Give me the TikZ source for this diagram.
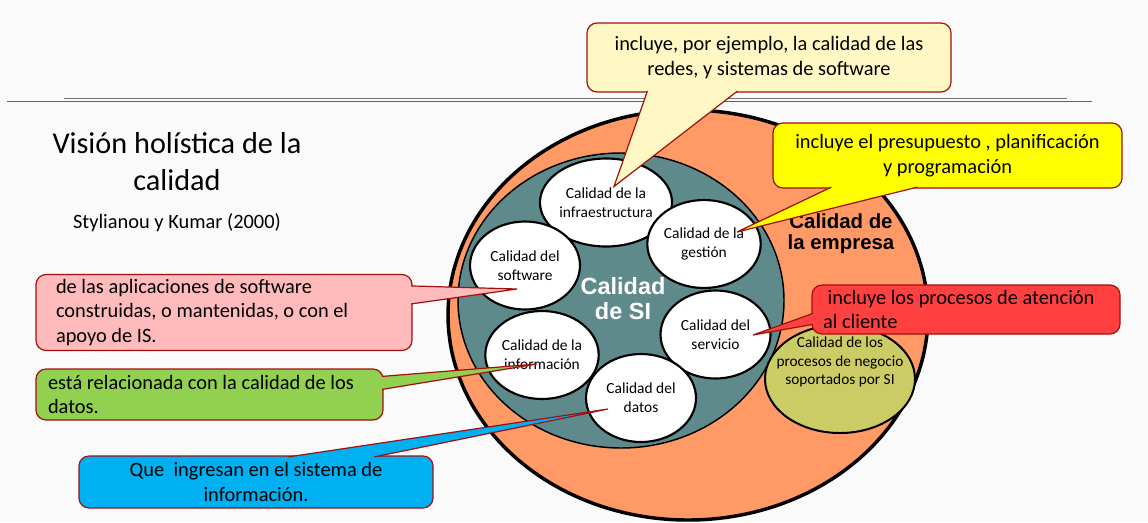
\documentclass[tikz,border=0pt]{standalone}
\usepackage{fontspec}
\setmainfont{Carlito}
\newfontfamily\arialfont{Liberation Sans}
\usetikzlibrary{positioning, shapes.geometric, calc}

\definecolor{pagebg}{HTML}{FAFAFA}
\definecolor{empresaorange}{HTML}{FF9966}
\definecolor{siteal}{HTML}{5F8A8B}
\definecolor{procolive}{HTML}{CCCC66}
\definecolor{bubbleedge}{HTML}{A01010}
\definecolor{paleyellow}{HTML}{FFF8C4}
\definecolor{brightyellow}{HTML}{FFFF00}
\definecolor{softpink}{HTML}{FFBBBB}
\definecolor{leafgreen}{HTML}{92D050}
\definecolor{skyblue}{HTML}{00B0F0}
\definecolor{alertred}{HTML}{FF4040}

\begin{document}
\begin{tikzpicture}[x=0.75pt, y=-0.75pt,
    quality/.style={ellipse, draw=black, line width=1.6pt, fill=white,
      minimum width=82.5pt, minimum height=66pt, inner sep=0pt, align=center,
      font=\fontsize{11.6}{14.25}\selectfont},
    bubble/.style={draw=bubbleedge, line width=0.9pt, rounded corners=7.5pt,
      font=\fontsize{15.3}{18.6}\selectfont},
    tail/.style={draw=bubbleedge, line width=0.9pt}]

\fill[pagebg] (0,0) rectangle (1148,522);
\useasboundingbox (0,0) rectangle (1148,522);

% header rules
\draw[line width=0.7pt, black!55] (64,98.3) -- (1067,98.3);
\draw[line width=0.75pt, siteal!80!black] (7,101) -- (1092,101);

% title
\node[align=center, font=\fontsize{22.7}{27.75}\selectfont] (title) at (177,162)
  {Visión holística de la\\calidad};
\node[font=\fontsize{15.3}{18}\selectfont] (source) at (177,223) {Stylianou y Kumar (2000)};

% rings
\node[ellipse, draw=black, line width=2.6pt, fill=empresaorange, minimum width=360pt,
  minimum height=307.5pt, inner sep=0pt] (empresa) at (688,315) {};
\node[ellipse, draw=black, line width=1.1pt, fill=siteal, minimum width=244.5pt,
  minimum height=221.25pt, inner sep=0pt] (si) at (621,300.5) {};

% quality circles
\node[quality] (infra) at (606,202.5) {Calidad de la\\infraestructura};
\node[quality] (gestion) at (704,244) {Calidad de la\\gestión};
\node[quality] (software) at (525,265.5) {Calidad del\\software};
\node[quality] (servicio) at (715.5,334.5) {Calidad del\\servicio};
\node[quality] (informacion) at (542,355) {Calidad de la\\información};
\node[quality] (datos) at (641,398) {Calidad del\\datos};
\node[ellipse, draw=black, line width=1.5pt, fill=procolive, minimum width=112.5pt,
  minimum height=81pt, inner sep=0pt] (procesos) at (840,379) {};
\node[align=center, font=\fontsize{11.5}{13.6}\selectfont] (procesostxt)
  at ($(procesos)+(0,-17)$) {Calidad de los\\procesos de negocio\\soportados por SI};

\node[align=center, text=white, font=\arialfont\bfseries\fontsize{17.6}{18.75}\selectfont]
  (silabel) at (623,299) {Calidad\\de SI};
\node[align=center, font=\arialfont\bfseries\fontsize{15.3}{15.5}\selectfont]
  (empresalabel) at (841,234) {Calidad de\\la empresa};

% callouts
\node[bubble, fill=paleyellow, minimum width=273pt, minimum height=51.75pt, align=center]
  (boxinfra) at (769,57.5) {incluye, por ejemplo, la calidad de las\\redes, y sistemas de software};
\node[bubble, fill=brightyellow, minimum width=261.75pt, minimum height=48.75pt, align=center]
  (boxgestion) at (947.5,155.5) {incluye el presupuesto , planificación\\y programación};
\node[bubble, fill=softpink, text width=252pt, inner xsep=15pt, minimum height=56.25pt, align=flush left]
  (boxsoftware) at (224,312.5) {de las aplicaciones de software\\construidas, o mantenidas, o con el\\apoyo de IS.};
\node[bubble, fill=leafgreen, text width=242.25pt, inner xsep=9pt, minimum height=38.25pt, align=flush left]
  (boxinfo) at (209.5,394.5) {está relacionada con la calidad de los\\datos.};
\node[bubble, fill=skyblue, minimum width=265.5pt, minimum height=39pt, align=center]
  (boxdatos) at (256,482) {Que\ \ ingresan en el sistema de\\información.};
\node[bubble, fill=alertred, text width=214.5pt, inner xsep=8.25pt, minimum height=36.75pt, align=flush left]
  (boxservicio) at (966,309.5) {\ incluye los procesos de atención\\al cliente};

\coordinate (tipinfra) at ($(infra)+(8,-16)$);
\coordinate (tipgestion) at ($(gestion)+(33,-12)$);
\coordinate (tipsoftware) at ($(software)+(-8,23.5)$);
\coordinate (tipinfo) at ($(informacion)+(-5,9)$);
\coordinate (tipdatos) at ($(datos)+(-33,11)$);
\coordinate (tipservicio) at ($(servicio)+(37.5,0.5)$);

\draw[tail, fill=paleyellow] ($(boxinfra.south west)+(61,-1.5)$) -- (tipinfra)
  -- ($(boxinfra.south west)+(151,-1.5)$);
\draw[tail, fill=brightyellow] ($(boxgestion.south west)+(59,-1.5)$) -- (tipgestion)
  -- ($(boxgestion.south west)+(145,-1.5)$);
\draw[tail, fill=softpink] ($(boxsoftware.north east)+(-1.5,12)$) -- (tipsoftware)
  -- ($(boxsoftware.north east)+(-1.5,30)$);
\draw[tail, fill=leafgreen] ($(boxinfo.north east)+(-1.5,8)$) -- (tipinfo)
  -- ($(boxinfo.north east)+(-1.5,21)$);
\draw[tail, fill=skyblue] ($(boxdatos.north west)+(210,1.5)$) -- (tipdatos)
  -- ($(boxdatos.north west)+(296,1.5)$);
\draw[tail, fill=alertred] ($(boxservicio.north west)+(1.5,29)$) -- (tipservicio)
  -- ($(boxservicio.north west)+(1.5,40)$);
\end{tikzpicture}
\end{document}
